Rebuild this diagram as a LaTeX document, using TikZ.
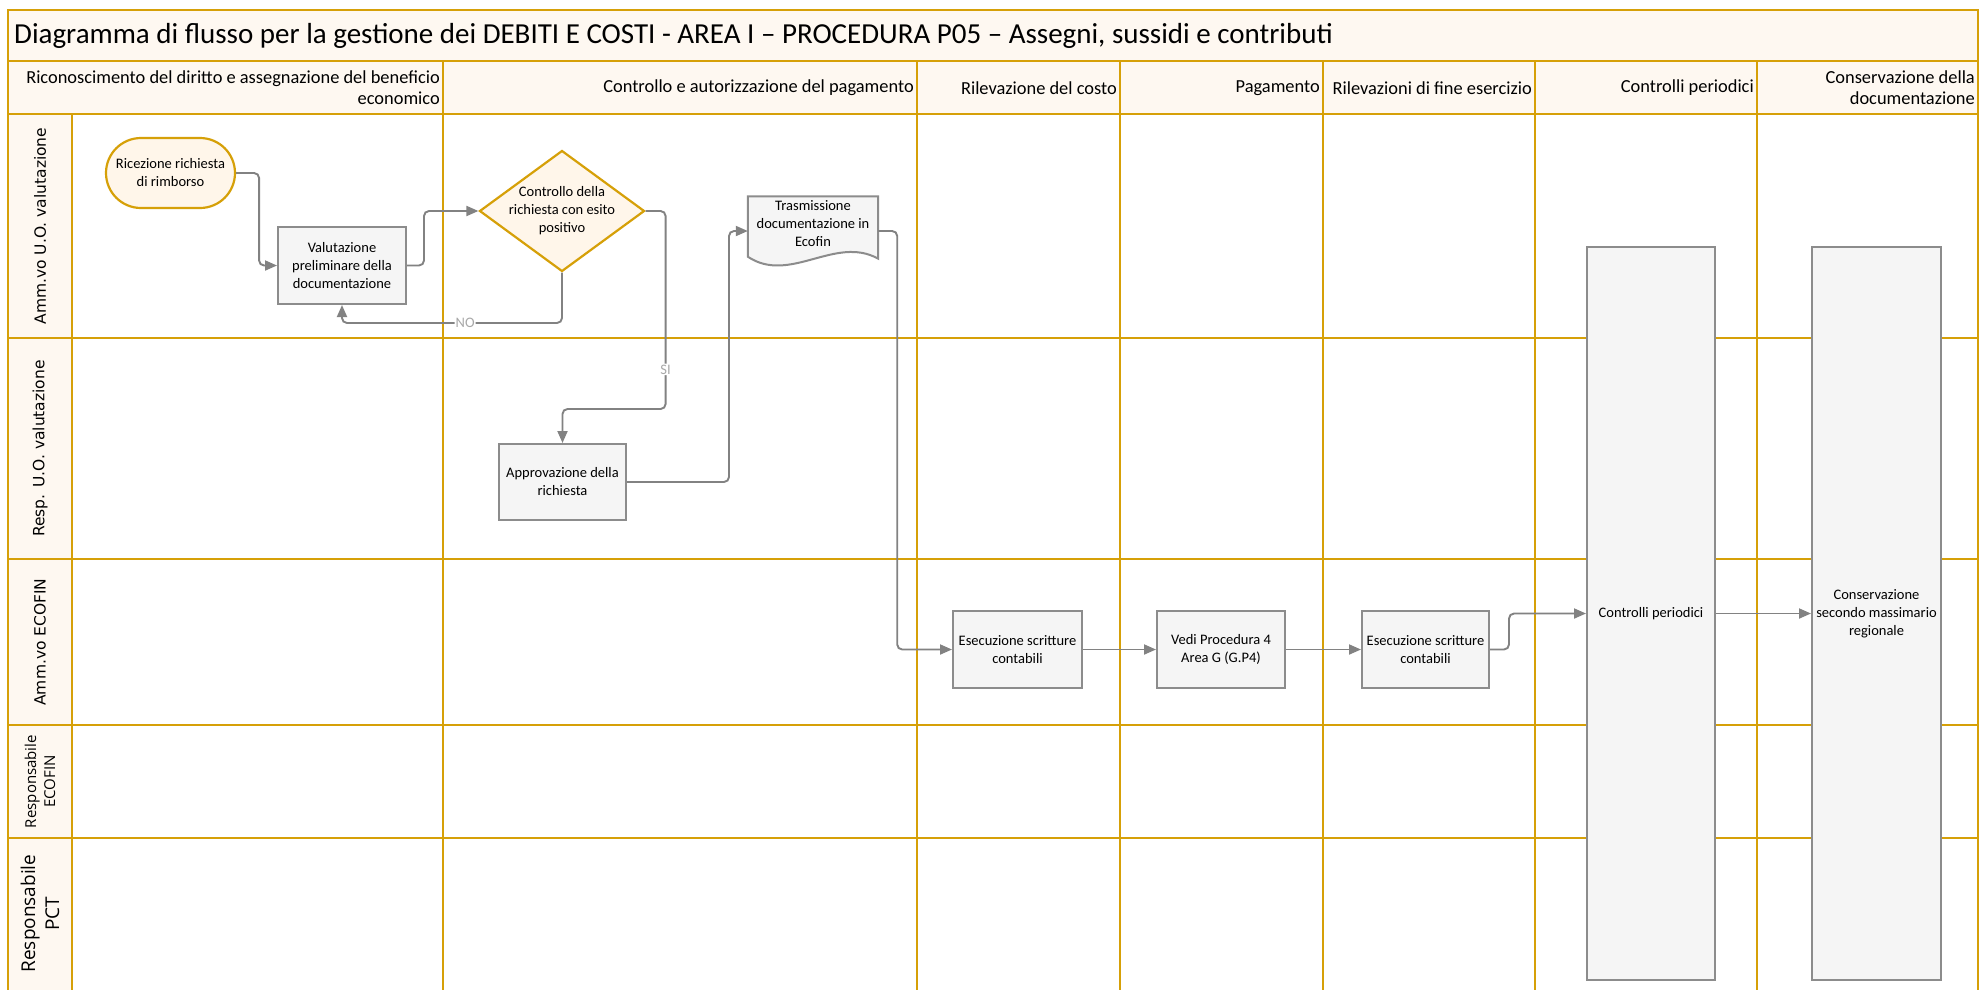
\documentclass[tikz,border=0pt]{standalone}
\usepackage{fontspec}
\setmainfont{Carlito}
\newfontfamily\lanefont{DejaVu Sans}
\newfontfamily\respfont{Open Sans}
\usepackage{xcolor}
\usepackage{tikz}
\usetikzlibrary{arrows.meta,shapes.geometric,shapes.misc,calc}
\definecolor{oro}{RGB}{214,160,8}
\definecolor{crema}{RGB}{254,248,241}
\definecolor{cremaforte}{RGB}{255,246,234}
\definecolor{grigiobox}{RGB}{245,245,245}
\definecolor{grigiobordo}{RGB}{140,140,140}
\definecolor{grigiofreccia}{RGB}{130,130,130}
\definecolor{grigioetich}{RGB}{168,168,168}
\newcommand\nodo{\fontsize{14.5}{18}\selectfont}
\newcommand\testata{\fontsize{18.4}{21}\selectfont}
\newcommand\titolo{\fontsize{29}{34}\selectfont}
\newcommand\corsia{\lanefont\fontsize{15.5}{18}\selectfont}

\begin{document}
\begin{tikzpicture}[x=1pt,y=-1pt,
griglia/.style={oro,line width=2.2pt},
attivita/.style={draw=grigiobordo,fill=grigiobox,line width=2pt,minimum width=128pt,minimum height=77pt,align=center,font=\nodo,inner sep=1pt},
inizio/.style={rounded rectangle,draw=oro,fill=cremaforte,line width=2.2pt,minimum width=131pt,minimum height=70pt,align=center,font=\nodo,inner sep=1pt},
decisione/.style={diamond,draw=oro,fill=cremaforte,line width=2.2pt,minimum width=165pt,minimum height=121pt,inner sep=0pt},
documento/.style={minimum width=130pt,minimum height=69pt,inner sep=0pt},
freccia/.style={grigiofreccia,line width=1.9pt,rounded corners=5pt,-{Triangle[length=12pt,width=10pt]}},
etichetta/.style={fill=white,text=grigioetich,font=\nodo,inner sep=1pt},
intestazione/.style={anchor=east,align=right,font=\testata,inner sep=0pt}]
\useasboundingbox (0,0) rectangle (1979,989);
\fill[white] (0,0) rectangle (1979,989);
\fill[crema] (8,10) rectangle (1978,114);
\fill[crema] (8,114) rectangle (72,995);
\draw[griglia] (8,995) -- (8,10) -- (1978,10) -- (1978,995);
\draw[griglia] (8,61) -- (1978,61);
\draw[griglia] (8,114) -- (1978,114);
\foreach \y in {338,559,725,838}
  \draw[griglia] (8,\y) -- (1978,\y);
\draw[griglia] (72,114) -- (72,995);
\foreach \x in {443,917,1120,1323,1535,1757}
  \draw[griglia] (\x,61) -- (\x,995);

\node[anchor=west,font=\titolo,inner sep=0pt] (titolo) at (14,36) {Diagramma di flusso per la gestione dei DEBITI E COSTI - AREA I -- PROCEDURA P05 -- Assegni, sussidi e contributi};
\node[intestazione] (fase1) at (440,88) {Riconoscimento del diritto e assegnazione del beneficio\\economico};
\node[intestazione] (fase2) at (914,88) {Controllo e autorizzazione del pagamento};
\node[intestazione] (fase3) at (1117,88) {Rilevazione del costo};
\node[intestazione] (fase4) at (1320,88) {Pagamento};
\node[intestazione] (fase5) at (1532,88) {Rilevazioni di fine esercizio};
\node[intestazione] (fase6) at (1754,88) {Controlli periodici};
\node[intestazione] (fase7) at (1975,88) {Conservazione della\\documentazione};

\node[rotate=90,font=\corsia] (corsia1) at (40,226) {Amm.vo U.O. valutazione};
\node[rotate=90,font=\corsia] (corsia2) at (40,448.5) {Resp. U.O. valutazione};
\node[rotate=90,font=\corsia] (corsia3) at (40,642) {Amm.vo ECOFIN};
\node[rotate=90,align=center,font=\respfont\fontsize{15}{19}\selectfont] (corsia4) at (40,781.5) {Responsabile\\ECOFIN};
\node[rotate=90,align=center,font=\respfont\fontsize{19}{24}\selectfont] (corsia5) at (40,913.5) {Responsabile\\PCT};

\node[inizio] (ricez) at (170.5,173) {Ricezione richiesta\\di rimborso};
\node[attivita] (valut) at (342,265.5) {Valutazione\\preliminare della\\documentazione};
\node[decisione,label={[align=center,font=\nodo]center:Controllo della\\richiesta con esito\\positivo}] (ctrl) at (562,211) {};
\node[attivita,minimum width=127pt,minimum height=76pt] (approv) at (562.5,482) {Approvazione della\\richiesta};
\node[documento] (trasm) at (813,231) {};
\draw[draw=grigiobordo,fill=grigiobox,line width=2pt] (trasm.north west) -- (trasm.north east) -- ($(trasm.south east)+(0,-7)$)
  .. controls ($(trasm.south east)+(-43,-31)$) and ($(trasm.south west)+(42,19)$) .. ($(trasm.south west)+(0,-9)$) -- cycle;
\node[font=\nodo,align=center] (trasmtesto) at ($(trasm.center)+(0,-7)$) {Trasmissione\\documentazione in\\Ecofin};
\node[attivita,minimum width=129pt] (esec1) at (1017.5,649.5) {Esecuzione scritture\\contabili};
\node[attivita] (vedi) at (1221,649.5) {Vedi Procedura 4\\Area G (G.P4)};
\node[attivita,minimum width=127pt] (esec2) at (1425.5,649.5) {Esecuzione scritture\\contabili};
\node[attivita,minimum height=733pt] (ctrlp) at (1651,613.5) {Controlli periodici};
\node[attivita,minimum width=129pt,minimum height=733pt] (conserv) at (1876.5,613.5) {Conservazione\\secondo massimario\\regionale};

\draw[freccia] (ricez.east) -- ++(23,0) |- (valut.west);
\draw[freccia] (valut.east) -- ++(17,0) |- (ctrl.west);
\draw[freccia] (ctrl.south) |- node[pos=0.72,etichetta]{NO} ($(valut.south)+(0,18)$) -- (valut.south);
\draw[freccia] (ctrl.east) -- ++(20,0) |- node[pos=0.4,etichetta]{SI} ($(approv.north)+(0,-34)$) -- (approv.north);
\draw[freccia] (approv.east) -- ++(102,0) |- (trasm.west);
\draw[freccia] (trasm.east) -- ++(19,0) |- (esec1.west);
\draw[freccia] (esec1) -- (vedi);
\draw[freccia] (vedi) -- (esec2);
\draw[freccia] (esec2.east) -- ++(19,0) |- (ctrlp.west);
\draw[freccia] (ctrlp.east) -- (conserv.west);
\end{tikzpicture}
\end{document}
